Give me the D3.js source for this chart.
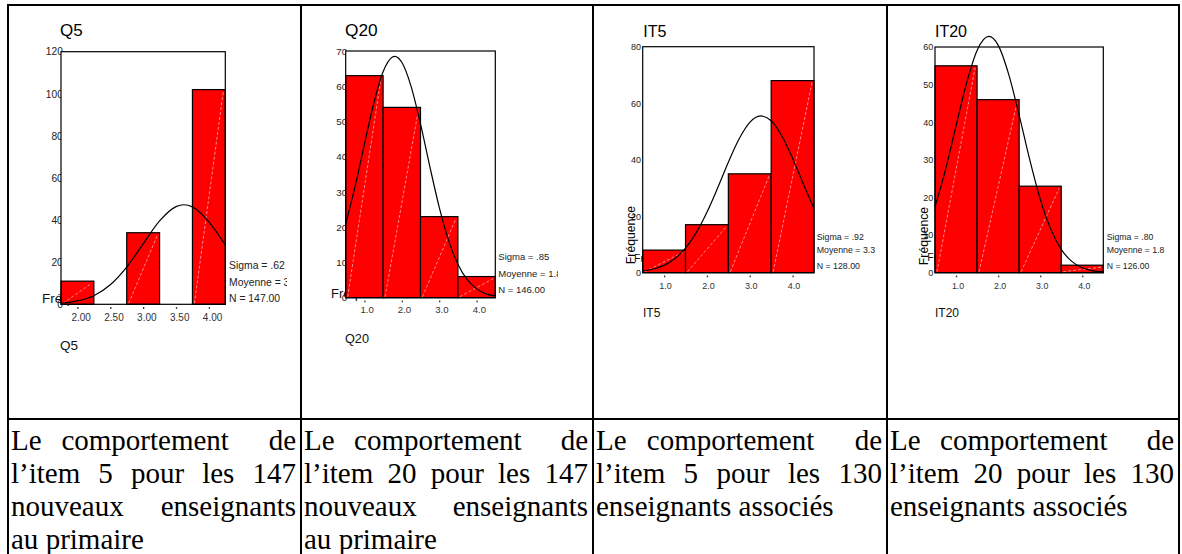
<!DOCTYPE html>
<html><head><meta charset="utf-8">
<script src="https://cdn.jsdelivr.net/npm/d3@7"></script>
<style>html,body{margin:0;padding:0;background:#fff;} svg{display:block;}</style>
</head><body>
<svg id="chart" width="1182" height="554"></svg>
<script>
// ---------- DATA ----------
const panelTitles = ["Q5", "Q20", "IT5", "IT20"];
const axisTitles  = ["Q5", "Q20", "IT5", "IT20"];
const yAxisTitle = "Fréquence";

const q5Bins = [2.0, 2.5, 3.0, 3.5, 4.0];
const q5Counts = [11, 0, 34, 0, 102];
const q5TickLabels = ["2.00", "2.50", "3.00", "3.50", "4.00"];
const q5YTicks = [0, 20, 40, 60, 80, 100, 120];
const q5CurveX = [1.75, 2.0, 2.25, 2.5, 2.75, 3.0, 3.25, 3.5, 3.62, 3.75, 4.0, 4.25];
const q5CurveY = [0.5, 1.6, 4.1, 9.3, 17.7, 28.7, 39.6, 46.4, 47.3, 46.3, 39.2, 28.2];
const q5Stats = ["Sigma = .62", "Moyenne = 3.6", "N = 147.00"];

const q20Bins = [1, 2, 3, 4];
const q20Counts = [63, 54, 23, 6];
const q20TickLabels = ["1.0", "2.0", "3.0", "4.0"];
const q20YTicks = [0, 10, 20, 30, 40, 50, 60, 70];
const q20CurveX = [0.5, 0.75, 1.0, 1.25, 1.5, 1.75, 1.81, 2.0, 2.25, 2.5, 2.75, 3.0, 3.25, 3.5, 3.75, 4.0, 4.25, 4.5];
const q20CurveY = [20.9, 31.5, 43.5, 55.1, 64.1, 68.3, 68.5, 66.8, 59.9, 49.3, 37.2, 25.7, 16.3, 9.5, 5.1, 2.5, 1.1, 0.5];
const q20Stats = ["Sigma = .85", "Moyenne = 1.8", "N = 146.00"];

const it5Bins = [1, 2, 3, 4];
const it5Counts = [8, 17, 35, 68];
const it5TickLabels = ["1.0", "2.0", "3.0", "4.0"];
const it5YTicks = [0, 20, 40, 60, 80];
const it5CurveX = [0.5, 0.75, 1.0, 1.25, 1.5, 1.75, 2.0, 2.25, 2.5, 2.75, 3.0, 3.25, 3.5, 3.75, 4.0, 4.25, 4.5];
const it5CurveY = [0.6, 1.3, 2.6, 5.0, 8.7, 14.2, 21.4, 30.0, 39.1, 47.3, 53.2, 55.5, 53.8, 48.4, 40.5, 31.5, 22.7];
const it5Stats = ["Sigma = .92", "Moyenne = 3.3", "N = 128.00"];

const it20Bins = [1, 2, 3, 4];
const it20Counts = [55, 46, 23, 2];
const it20TickLabels = ["1.0", "2.0", "3.0", "4.0"];
const it20YTicks = [0, 10, 20, 30, 40, 50, 60];
const it20CurveX = [0.5, 0.75, 1.0, 1.25, 1.5, 1.78, 2.0, 2.25, 2.5, 2.75, 3.0, 3.25, 3.5, 3.75, 4.0, 4.25, 4.5];
const it20CurveY = [17.5, 27.4, 39.0, 50.4, 59.1, 62.8, 60.5, 52.8, 41.9, 30.1, 19.6, 11.6, 6.2, 3.0, 1.3, 0.5, 0.2];
const it20Stats = ["Sigma = .80", "Moyenne = 1.8", "N = 126.00"];

const captions = [
  ["Le comportement  de", "l’item 5 pour les 147", "nouveaux enseignants", "au primaire"],
  ["Le comportement  de", "l’item 20 pour les 147", "nouveaux enseignants", "au primaire"],
  ["Le comportement  de", "l’item 5 pour les 130", "enseignants associés"],
  ["Le comportement  de", "l’item 20 pour les 130", "enseignants associés"]
];

// ---------- LAYOUT ----------
const svg = d3.select("#chart");
const colX = [8, 301, 593, 887, 1179];
const tableTop = 5, rowY = 419;

const layouts = [
  {fx0: 61, fx1: 225.3, fy0: 51.7, fy1: 304.3, clipL: 9, clipR: 287,
   title: {x: 60, y: 36, s: 17}, xlab: {x: 60, y: 350, s: 13.5},
   tick: {y: 321.5, s: 10, dx: 3.2}, stats: {x: 229, ys: [268.6, 286.3, 302], s: 10.4},
   ylab: {dx: 1.8, s: 10.2}, freq: {mode: "h", x: 42, y: 303.3, s: 13.5}},
  {fx0: 345.7, fx1: 495.3, fy0: 51, fy1: 297.7, clipL: 302, clipR: 558,
   title: {x: 345, y: 36, s: 17.3}, xlab: {x: 345, y: 342.7, s: 12.7},
   tick: {y: 313.3, s: 9.6, dx: 2.2}, stats: {x: 498.3, ys: [260, 277.3, 292.7], s: 9.5},
   ylab: {dx: 1.5, s: 9.8}, freq: {mode: "h", x: 331, y: 297.7, s: 13}},
  {fx0: 642.7, fx1: 814, fy0: 46.7, fy1: 272.7, clipL: 594, clipR: 886,
   title: {x: 643.3, y: 36.7, s: 16}, xlab: {x: 643, y: 317.3, s: 12},
   tick: {y: 288.7, s: 9, dx: 1}, stats: {x: 816.7, ys: [240, 253.3, 269.3], s: 8.8},
   ylab: {dx: -1.8, s: 9}, freq: {mode: "v", cx: 635, cy: 235, s: 12.2, hx: 634, hy: 261.7, hs: 10.5}},
  {fx0: 935, fx1: 1103.3, fy0: 47, fy1: 272.7, clipL: 888, clipR: 1178,
   title: {x: 935, y: 36.7, s: 16}, xlab: {x: 935, y: 317.3, s: 12},
   tick: {y: 288.7, s: 8.8, dx: 1.5}, stats: {x: 1106.7, ys: [240, 253.3, 269.3], s: 8.7},
   ylab: {dx: -1.8, s: 9}, freq: {mode: "v", cx: 927.5, cy: 236, s: 12.2, hx: 927.3, hy: 261, hs: 10.5}}
];

const panels = [
  {bins: q5Bins, counts: q5Counts, ticks: q5TickLabels, yTicks: q5YTicks, cx: q5CurveX, cy: q5CurveY, stats: q5Stats},
  {bins: q20Bins, counts: q20Counts, ticks: q20TickLabels, yTicks: q20YTicks, cx: q20CurveX, cy: q20CurveY, stats: q20Stats},
  {bins: it5Bins, counts: it5Counts, ticks: it5TickLabels, yTicks: it5YTicks, cx: it5CurveX, cy: it5CurveY, stats: it5Stats},
  {bins: it20Bins, counts: it20Counts, ticks: it20TickLabels, yTicks: it20YTicks, cx: it20CurveX, cy: it20CurveY, stats: it20Stats}
];

const sans = "'Liberation Sans', Arial, sans-serif";
const serif = "'Liberation Serif', 'Times New Roman', serif";
const defs = svg.append("defs");

panels.forEach((p, i) => {
  const L = layouts[i];
  const bw = p.bins[1] - p.bins[0];
  const x = d3.scaleLinear().domain([p.bins[0] - bw / 2, p.bins[p.bins.length - 1] + bw / 2]).range([L.fx0, L.fx1]);
  const y = d3.scaleLinear().domain([0, d3.max(p.yTicks)]).range([L.fy1, L.fy0]);

  defs.append("clipPath").attr("id", "clip" + i).append("rect")
    .attr("x", L.clipL).attr("y", 7).attr("width", L.clipR - L.clipL).attr("height", rowY - 8);
  const g = svg.append("g").attr("clip-path", `url(#clip${i})`);

  // horizontal (mostly hidden) y-axis title
  if (L.freq.mode === "h") {
    g.append("text").attr("x", L.freq.x).attr("y", L.freq.y)
      .attr("font-family", sans).attr("font-size", L.freq.s).attr("fill", "#111").text(yAxisTitle);
  } else {
    g.append("text").attr("x", L.freq.hx).attr("y", L.freq.hy)
      .attr("font-family", sans).attr("font-size", L.freq.hs).attr("fill", "#111").text(yAxisTitle);
  }

  // y tick labels
  const yAxis = d3.axisLeft(y).tickValues(p.yTicks).tickSize(0).tickPadding(0).tickFormat(d3.format("d"));
  const ya = g.append("g").attr("transform", `translate(${L.fx0 + L.ylab.dx},0)`).call(yAxis);
  ya.select(".domain").remove();
  ya.selectAll("text").attr("font-family", sans).attr("font-size", L.ylab.s).attr("fill", "#222");

  // plot frame (white interior covers overflow)
  g.append("rect").attr("x", L.fx0).attr("y", L.fy0).attr("width", L.fx1 - L.fx0).attr("height", L.fy1 - L.fy0)
    .attr("fill", "#fff").attr("stroke", "none");

  // bars
  const data = p.bins.map((b, k) => ({b, c: p.counts[k]})).filter(d => d.c > 0);
  g.selectAll(".bar" + i).data(data).enter().append("rect")
    .attr("x", d => x(d.b - bw / 2)).attr("y", d => y(d.c))
    .attr("width", d => x(d.b + bw / 2) - x(d.b - bw / 2)).attr("height", d => y(0) - y(d.c))
    .attr("fill", "#ff0000").attr("stroke", "#000").attr("stroke-width", 1.2);
  // faint diagonal artifacts
  g.selectAll(".diag" + i).data(data).enter().append("line")
    .attr("x1", d => x(d.b - bw / 2) + 2).attr("y1", d => y(0) - 1)
    .attr("x2", d => x(d.b + bw / 2) - 2).attr("y2", d => y(d.c) + 2)
    .attr("stroke", "#ffc4c4").attr("stroke-width", 0.7).attr("stroke-dasharray", "3,2");

  // frame outline on top
  g.append("rect").attr("x", L.fx0).attr("y", L.fy0).attr("width", L.fx1 - L.fx0).attr("height", L.fy1 - L.fy0)
    .attr("fill", "none").attr("stroke", "#000").attr("stroke-width", 1.2);

  // normal curve
  const pts = p.cx.map((v, k) => [v, p.cy[k]]);
  svg.append("path").datum(pts)
    .attr("d", d3.line().x(d => x(d[0])).y(d => y(d[1])).curve(d3.curveMonotoneX))
    .attr("fill", "none").attr("stroke", "#000").attr("stroke-width", 1.2);

  // x axis ticks + labels
  const xAxis = d3.axisBottom(x).tickValues(p.bins).tickSize(0).tickPadding(0)
    .tickFormat((d, k) => p.ticks[k]);
  const xa = g.append("g").attr("transform", `translate(0,${L.fy1})`).call(xAxis);
  xa.select(".domain").remove();
  xa.selectAll(".tick line").remove();
  xa.selectAll(".tick").append("line").attr("x1", 0).attr("x2", 0).attr("y1", 2.8).attr("y2", 4.6)
    .attr("stroke", "#333").attr("stroke-width", 1.3);
  xa.selectAll("text").attr("font-family", sans).attr("font-size", L.tick.s).attr("fill", "#333")
    .attr("dy", null).attr("y", L.tick.y - L.fy1).attr("dx", L.tick.dx);

  // stats
  g.selectAll(".stat" + i).data(p.stats).enter().append("text")
    .attr("x", L.stats.x).attr("y", (d, k) => L.stats.ys[k])
    .attr("font-family", sans).attr("font-size", L.stats.s).attr("fill", "#222").text(d => d);

  // title & x-axis title
  g.append("text").attr("x", L.title.x).attr("y", L.title.y).attr("font-family", sans)
    .attr("font-size", L.title.s).attr("fill", "#000").text(panelTitles[i]);
  g.append("text").attr("x", L.xlab.x).attr("y", L.xlab.y).attr("font-family", sans)
    .attr("font-size", L.xlab.s).attr("fill", "#111").text(axisTitles[i]);

  // rotated y-axis title
  if (L.freq.mode === "v") {
    g.append("text").attr("transform", `translate(${L.freq.cx},${L.freq.cy}) rotate(-90)`)
      .attr("text-anchor", "middle").attr("font-family", sans).attr("font-size", L.freq.s)
      .attr("fill", "#000").text(yAxisTitle);
  }
});

// ---------- TABLE ----------
const lw = 2;
svg.append("line").attr("x1", colX[0] - 1).attr("x2", colX[4] + 1).attr("y1", tableTop).attr("y2", tableTop)
  .attr("stroke", "#000").attr("stroke-width", lw);
svg.append("line").attr("x1", colX[0] - 1).attr("x2", colX[4] + 1).attr("y1", rowY).attr("y2", rowY)
  .attr("stroke", "#000").attr("stroke-width", lw);
colX.forEach(cx => {
  svg.append("line").attr("x1", cx).attr("x2", cx).attr("y1", tableTop - 1).attr("y2", 560)
    .attr("stroke", "#000").attr("stroke-width", lw);
});

// captions, justified (each space in the source stretches equally)
const capSize = 29, lineH = 33, firstBase = 450;
captions.forEach((lines, ci) => {
  const x0 = colX[ci] + 3, x1 = colX[ci + 1] - 5;
  const g = svg.append("g").attr("font-family", serif).attr("font-size", capSize).attr("fill", "#000");
  lines.forEach((line, li) => {
    const words = line.split(" ");
    const yy = firstBase + li * lineH;
    const ts = words.map(w => g.append("text").attr("y", yy).text(w));
    const widths = ts.map(t => t.node().getComputedTextLength());
    const last = li === lines.length - 1;
    const gap = last ? capSize * 0.25 : (x1 - x0 - d3.sum(widths)) / (words.length - 1);
    let xx = x0;
    ts.forEach((t, k) => { t.attr("x", xx); xx += widths[k] + gap; });
  });
});
</script>
</body></html>
